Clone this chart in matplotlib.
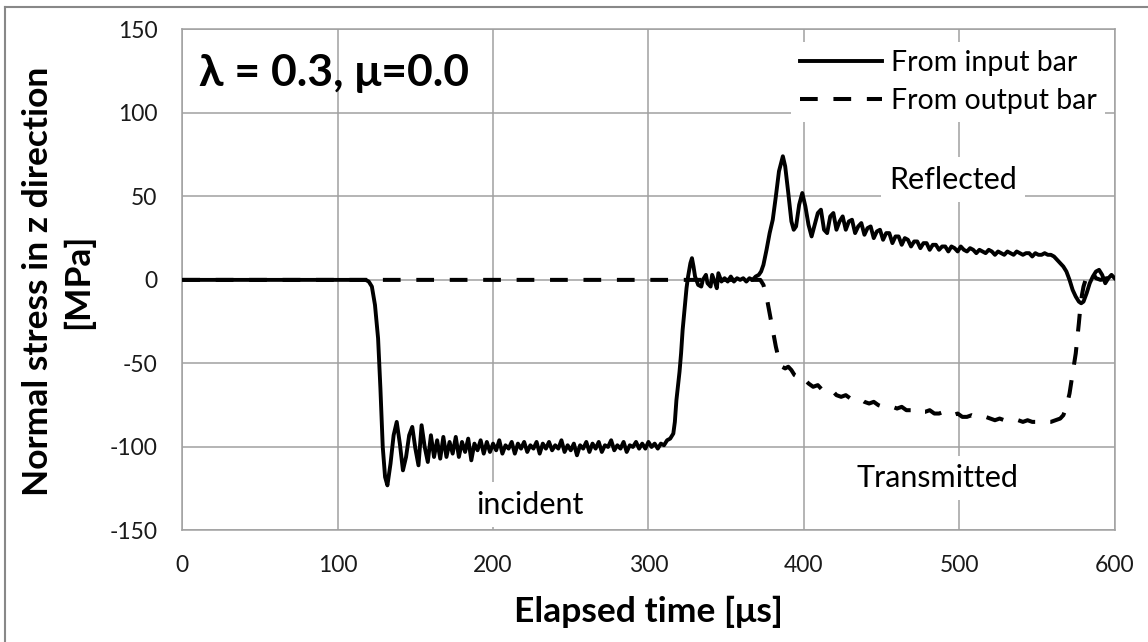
import matplotlib
matplotlib.use('Agg')
import matplotlib.pyplot as plt
from matplotlib.lines import Line2D

# 字体：Calibri 风格，用 Lato 代替，希腊字母回退到 DejaVu Sans
plt.rcParams['font.family'] = ['Lato', 'DejaVu Sans']
plt.rcParams['axes.unicode_minus'] = False

# ---- 数据 ----
# 输入杆（实线）
t_input = [0, 118, 120, 122, 124, 126, 127.5, 129, 130.5, 132,
           134, 136, 138, 140, 142, 144, 146, 148, 150, 152, 154, 156, 158, 160,
           162, 164, 166, 168, 170, 172, 174, 176, 178, 180, 182, 184, 186, 188,
           190, 192, 194, 196, 198, 200, 202, 204, 206, 208, 210, 212, 214, 216,
           218, 220, 222, 224, 226, 228, 230, 232, 234, 236, 238, 240, 242, 244,
           246, 248, 250, 252, 254, 256, 258, 260, 262, 264, 266, 268, 270, 272,
           274, 276, 278, 280, 282, 284, 286, 288, 290, 292, 294, 296, 298, 300,
           302, 304, 306, 308, 310,
           312, 314, 316, 317, 318, 320, 321, 322, 323.4, 324.5, 325.5, 327, 328,
           329, 330, 332, 334, 335, 337, 338, 340, 341, 343, 344, 345, 347, 349,
           351, 353, 355, 357, 359, 361, 363, 365, 367, 369, 371, 372.5, 374, 376,
           378, 380, 382, 384, 386.5, 388, 390, 392, 393.5, 395, 397, 399, 401,
           403, 405, 407, 409, 411, 413, 415, 417, 419, 421, 423, 425, 427, 429,
           431, 433, 435, 437, 439, 441, 443, 445, 447, 449, 451, 453, 455, 457,
           459, 461, 463, 465, 467, 469, 471, 473, 475, 477, 479, 481, 483, 485,
           487, 489, 491, 493, 495, 497, 499, 501, 503, 505, 507, 509, 511, 513,
           515, 517, 519, 521, 523, 525, 527, 529, 531, 533, 535, 537, 539, 541,
           543, 545, 547, 549, 551, 553, 555, 557, 559, 561, 563, 565, 567, 569,
           571, 573, 575, 577, 578.5, 580, 582, 584, 586, 588, 590, 592, 594, 596,
           598, 600]
s_input = [0, 0, -1, -4, -15, -35, -65, -100, -118, -123,
           -110, -93, -85, -98, -114, -106, -93, -88, -101, -111, -87, -100, -109, -93,
           -106, -96, -107, -94, -106, -97, -104, -94, -106, -97, -103, -95, -108, -98,
           -102, -96, -104, -97, -103, -98, -102, -96, -104, -99, -101, -97, -104, -98,
           -101, -97, -103, -99, -101, -97, -104, -98, -101, -97, -102, -99, -101, -96,
           -103, -99, -102, -98, -105, -99, -101, -97, -103, -98, -101, -97, -103, -99,
           -100, -96, -102, -99, -101, -97, -103, -99, -100, -97, -101, -98, -101, -97,
           -100, -98, -101, -98, -99,
           -96, -95, -92, -85, -72, -55, -44, -30, -16, -5, 2, 10, 13,
           8, 2, -3, -4, 0, 3, -2, -4, 3, -2, -5, 4, -1, 1,
           -1, 2, -1, 1, 0, 1, -1, 1, 0, 2, 3, 5, 9, 18,
           28, 36, 50, 65, 74, 68, 52, 35, 30, 32, 45, 52, 44,
           33, 26, 33, 40, 42, 30, 28, 38, 40, 30, 35, 38, 30, 35,
           36, 28, 32, 34, 27, 31, 32, 25, 29, 30, 24, 28, 28, 22,
           26, 26, 21, 25, 24, 20, 23, 23, 19, 22, 22, 18, 21, 21,
           18, 20, 20, 17, 20, 19, 17, 20, 18, 17, 19, 18, 16, 18,
           17, 16, 18, 17, 15, 17, 16, 15, 17, 16, 15, 17, 16, 15,
           16, 16, 14, 16, 15, 15, 16, 15, 15, 14, 12, 10, 8, 5,
           0, -6, -10, -13, -14, -13, -8, -2, 2, 5, 6, 3, -2, 1,
           3, 1]

# 输出杆（虚线）
t_output = [0, 372, 374, 376, 378, 380, 382, 384, 386, 388, 390, 392, 394, 396,
            398, 400, 403, 406, 409, 412, 415, 418, 421, 424, 427, 430, 433, 436,
            439, 442, 445, 448, 451, 454, 457, 460, 463, 466, 469, 472, 475, 478,
            481, 484, 487, 490, 493, 496, 499, 502, 505, 508, 511, 514, 517, 520,
            523, 526, 529, 532, 535, 538, 541, 544, 547, 550, 553, 556, 559, 562,
            565, 567, 569, 571, 573, 575, 577, 578, 579, 580, 582, 584, 586, 588,
            591, 595, 600]
s_output = [0, 0, -3, -10, -20, -30, -40, -48, -52, -53, -52, -54, -57, -58,
            -60, -59, -62, -64, -63, -66, -67, -66, -69, -70, -69, -71, -72, -71,
            -73, -74, -73, -75, -76, -75, -76, -77, -76, -78, -78, -77, -79, -79,
            -78, -80, -80, -79, -81, -81, -80, -82, -82, -81, -82, -83, -82, -83,
            -84, -83, -84, -84, -83, -84, -85, -84, -85, -85, -84, -85, -85, -84,
            -83, -81, -76, -68, -56, -44, -26, -16, -9, -4, 2, 5, 4, 1,
            0, 1, 0]

x_ticks = [0, 100, 200, 300, 400, 500, 600]
y_ticks = [-150, -100, -50, 0, 50, 100, 150]

grid_color = '#a0a0a0'

fig = plt.figure(figsize=(11.48, 6.42), dpi=100)
ax = fig.add_axes([0.1588, 0.1737, 0.8121, 0.7807])

ax.plot(t_input, s_input, color='black', lw=2.8, solid_joinstyle='round',
        label='From input bar', zorder=3)
ax.plot(t_output, s_output, color='black', lw=2.9, dashes=(4.4, 3.9),
        label='From output bar', zorder=3)

ax.set_xlim(0, 600)
ax.set_ylim(-150, 150)
ax.set_xticks(x_ticks)
ax.set_yticks(y_ticks)
ax.grid(True, color=grid_color, lw=1.1)
ax.set_axisbelow(True)
for sp in ax.spines.values():
    sp.set_color(grid_color)
    sp.set_linewidth(1.1)
ax.tick_params(length=0, labelsize=16.5, pad=18, colors='#1a1a1a')

ax.set_xlabel('Elapsed time [μs]', fontsize=25.5, fontweight='bold', labelpad=14)
fig.text(0.033, 0.562, 'Normal stress in z direction', rotation=90, fontsize=25.5,
         fontweight='bold', ha='center', va='center')
fig.text(0.068, 0.562, '[MPa]', rotation=90, fontsize=25.5,
         fontweight='bold', ha='center', va='center')

ax.text(10.5, 116, 'λ = 0.3, μ=0.0', fontsize=32, fontweight='bold',
        ha='left', va='baseline', zorder=5)

box = dict(facecolor='white', edgecolor='none', pad=6)
ax.text(496, 60, 'Reflected', fontsize=22, ha='center', va='center', bbox=box, zorder=2)
ax.text(486, -118.5, 'Transmitted', fontsize=22, ha='center', va='center', bbox=box, zorder=2)
ax.text(224, -134.5, 'incident', fontsize=22, ha='center', va='center', bbox=box, zorder=2)

leg = ax.legend(loc='upper right', bbox_to_anchor=(0.99, 0.975), fontsize=20.5,
                frameon=True, facecolor='white', edgecolor='none', framealpha=1,
                fancybox=False, handlelength=2.9, handletextpad=0.3,
                labelspacing=0.4, borderpad=0.3, borderaxespad=0)
leg.set_zorder(4)

# 外框（只看得到左边和上边）
fig.add_artist(Line2D([5/1148, 5/1148], [0, 1 - 7/642], transform=fig.transFigure,
                      color='#888888', lw=1.5))
fig.add_artist(Line2D([5/1148, 1], [1 - 7/642, 1 - 7/642], transform=fig.transFigure,
                      color='#888888', lw=1.5))

plt.savefig('out.png', dpi=100)
plt.close()
